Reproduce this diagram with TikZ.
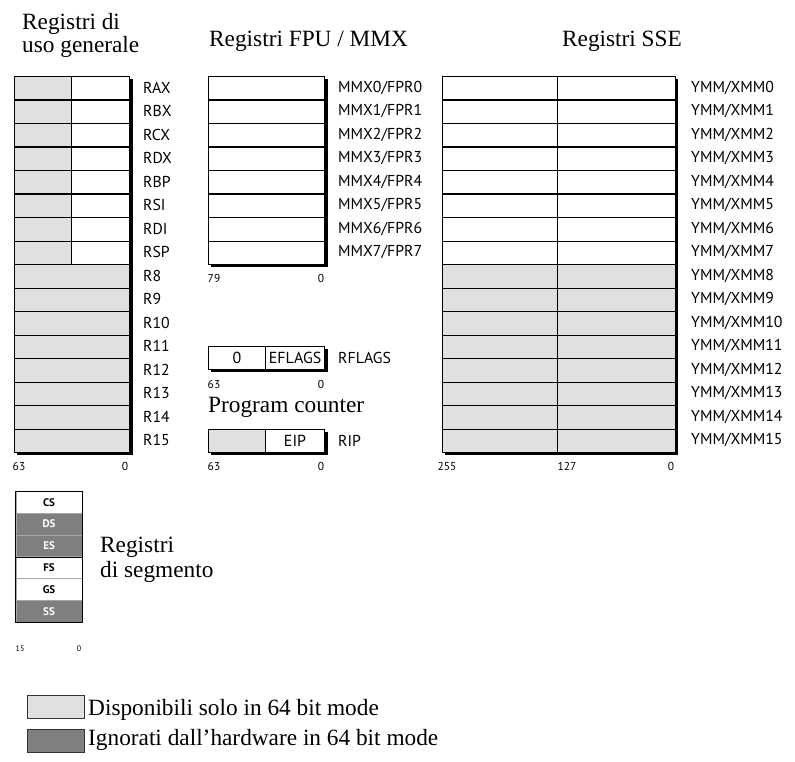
\documentclass[tikz,border=0pt]{standalone}
\usepackage{fontspec}
\setmainfont{Liberation Serif}
\newfontfamily\labfont{PT Sans}
\definecolor{lg}{HTML}{E0E0E0}
\definecolor{dg}{HTML}{7F7F7F}
\begin{document}
\begin{tikzpicture}[x=1pt,y=-1pt,
  cell/.style={draw=black, line width=1.1pt, minimum height=23.5pt, inner sep=0pt, anchor=north west, font=\labfont\fontsize{16}{17}\selectfont},
  segcell/.style={draw=gray!70, line width=0.6pt, minimum height=21.83pt, minimum width=66.5pt, inner sep=0pt, anchor=north west, font=\labfont\bfseries\fontsize{11}{12}\selectfont},
  reglab/.style={anchor=west, inner sep=0pt, font=\labfont\fontsize{15.8}{17}\selectfont},
  bitlab/.style={anchor=center, inner sep=0pt, font=\labfont\fontsize{11.5}{12}\selectfont},
  smallbit/.style={anchor=center, inner sep=0pt, font=\labfont\fontsize{8}{9}\selectfont},
  title/.style={font=\fontsize{23.3}{25}\selectfont, inner sep=0pt, anchor=base west},
  shadowbox/.style={fill=black},
  legbox/.style={draw=black!80, line width=1pt, minimum width=57pt, minimum height=23pt, inner sep=0pt, anchor=north west}]
\useasboundingbox (0,0) rectangle (795,762);

% ---------- titles
\node[title] (t1a) at (22,30) {Registri di};
\node[title] (t1b) at (22,53) {uso generale};
\node[title] (t2) at (209,47) {Registri FPU / MMX};
\node[title, anchor=base] (t3) at (622,47) {Registri SSE};

% ---------- general purpose registers
\fill[shadowbox] (17,79) rectangle (132.5,455);
\foreach \n [count=\i from 0] in {RAX,RBX,RCX,RDX,RBP,RSI,RDI,RSP,R8,R9,R10,R11,R12,R13,R14,R15}{
  \pgfmathsetmacro{\yy}{76+23.5*\i}
  \pgfmathsetmacro{\yc}{\yy+11.75}
  \ifnum\i<8
    \node[cell, fill=lg, minimum width=57pt] (gh\i) at (14,\yy) {};
    \node[cell, fill=white, minimum width=58pt] (gl\i) at (71,\yy) {};
  \else
    \node[cell, fill=lg, minimum width=115pt] (gh\i) at (14,\yy) {};
  \fi
  \node[reglab] (gn\i) at (143,\yc) {\n};
}
\node[bitlab] (gb63) at (19,466) {63};
\node[bitlab] (gb0) at (125,466) {0};

% ---------- FPU / MMX
\fill[shadowbox] (211,79) rectangle (327.5,267);
\foreach \i in {0,...,7}{
  \pgfmathsetmacro{\yy}{76+23.5*\i}
  \pgfmathsetmacro{\yc}{\yy+11.75}
  \node[cell, fill=white, minimum width=116pt] (f\i) at (208,\yy) {};
  \node[reglab] (fn\i) at (338,\yc) {MMX\i/FPR\i};
}
\node[bitlab] (fb79) at (214,278) {79};
\node[bitlab] (fb0) at (321,278) {0};

% ---------- RFLAGS
\fill[shadowbox] (211,349) rectangle (327.5,372);
\node[cell, fill=white, minimum width=57pt, minimum height=23pt] (rf1) at (208,346) {0};
\node[cell, fill=white, minimum width=59pt, minimum height=23pt] (rf2) at (265,346) {EFLAGS};
\node[reglab] (rfn) at (338,357.5) {RFLAGS};
\node[bitlab] (rb63) at (214,384) {63};
\node[bitlab] (rb0) at (321,384) {0};

% ---------- Program counter
\node[title] (pc) at (208,412) {Program counter};
\fill[shadowbox] (211,432) rectangle (327.5,455);
\node[cell, fill=lg, minimum width=57pt, minimum height=23pt] (ip1) at (208,429) {};
\node[cell, fill=white, minimum width=59pt, minimum height=23pt] (ip2) at (265,429) {EIP};
\node[reglab] (ipn) at (338,440.5) {RIP};
\node[bitlab] (ib63) at (214,466) {63};
\node[bitlab] (ib0) at (321,466) {0};

% ---------- SSE
\fill[shadowbox] (445,79) rectangle (678,455);
\foreach \i in {0,...,15}{
  \pgfmathsetmacro{\yy}{76+23.5*\i}
  \pgfmathsetmacro{\yc}{\yy+11.75}
  \ifnum\i<8
    \node[cell, fill=white, minimum width=115pt] (sh\i) at (442,\yy) {};
    \node[cell, fill=white, minimum width=118pt] (sl\i) at (557,\yy) {};
  \else
    \node[cell, fill=lg, minimum width=115pt] (sh\i) at (442,\yy) {};
    \node[cell, fill=lg, minimum width=118pt] (sl\i) at (557,\yy) {};
  \fi
  \node[reglab] (sn\i) at (691,\yc) {YMM/XMM\i};
}
\node[bitlab] (sb255) at (447,466) {255};
\node[bitlab] (sb127) at (567,466) {127};
\node[bitlab] (sb0) at (671,466) {0};

% ---------- segment registers
\fill[gray!60] (16.5,492) rectangle (83,623);
\foreach \n/\c/\t [count=\i from 0] in {CS/white/black,DS/dg/white,ES/dg/white,FS/white/black,GS/white/black,SS/dg/white}{
  \pgfmathsetmacro{\yy}{491+21.83*\i}
  \node[segcell, fill=\c, text=\t] (s\n) at (15.5,\yy) {\n};
}
\draw[black, line width=0.8pt] (sCS.north west) rectangle (sSS.south east);
\draw[black, line width=0.8pt] (sES.south west) -- (sES.south east);
\node[title] (sega) at (100,552) {Registri};
\node[title] (segb) at (100,577) {di segmento};
\node[smallbit] (qb15) at (20,649) {15};
\node[smallbit] (qb0) at (79,649) {0};

% ---------- legend
\node[legbox, fill=lg] (l1) at (27,695) {};
\node[legbox, fill=dg] (l2) at (27,728.5) {};
\node[title] (l1t) at (88,715) {Disponibili solo in 64 bit mode};
\node[title] (l2t) at (88,745) {Ignorati dall’hardware in 64 bit mode};
\end{tikzpicture}
\end{document}
